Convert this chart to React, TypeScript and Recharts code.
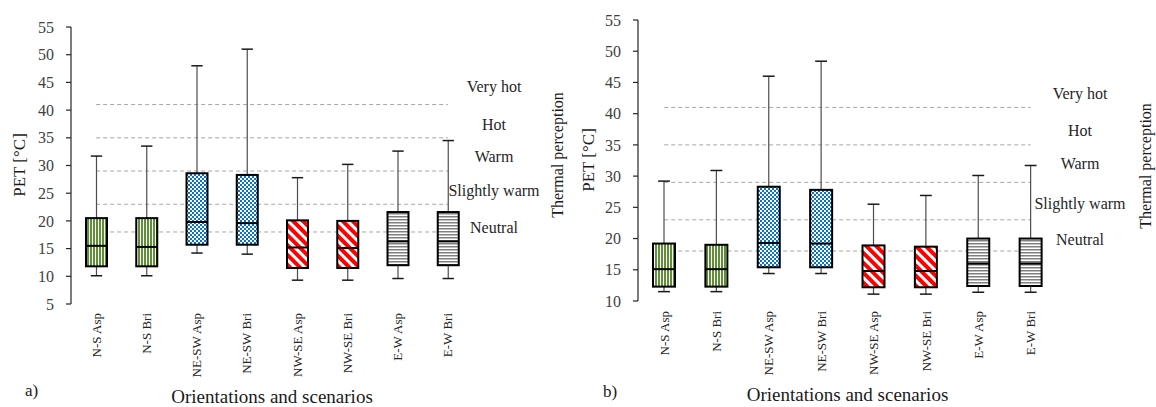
import React from 'react';
import { ComposedChart, Bar, Area, XAxis, YAxis, Label } from 'recharts';

const FONT = '"Liberation Serif", "Times New Roman", serif';

const categories = ['N-S Asp', 'N-S Bri', 'NE-SW Asp', 'NE-SW Bri', 'NW-SE Asp', 'NW-SE Bri', 'E-W Asp', 'E-W Bri'];
const thresholds = [18, 23, 29, 35, 41];
const perceptionLabels = ['Neutral', 'Slightly warm', 'Warm', 'Hot', 'Very hot'];

// a) values
const aMin = [10.1, 10.1, 14.2, 14.0, 9.3, 9.3, 9.6, 9.6];
const aQ1 = [11.8, 11.8, 15.7, 15.7, 11.5, 11.5, 12.0, 12.0];
const aMed = [15.5, 15.3, 19.8, 19.6, 15.2, 15.1, 16.3, 16.3];
const aQ3 = [20.5, 20.5, 28.6, 28.3, 20.1, 20.0, 21.6, 21.6];
const aMax = [31.7, 33.5, 48.0, 51.0, 27.8, 30.2, 32.6, 34.5];
const aLabelPos = [18.8, 25.5, 31.6, 37.4, 44.2];
const aTicks = [5, 10, 15, 20, 25, 30, 35, 40, 45, 50, 55];

// b) values
const bMin = [11.5, 11.5, 14.4, 14.4, 11.1, 11.1, 11.4, 11.4];
const bQ1 = [12.3, 12.3, 15.4, 15.4, 12.2, 12.2, 12.4, 12.4];
const bMed = [15.1, 15.1, 19.3, 19.2, 14.8, 14.8, 16.0, 16.0];
const bQ3 = [19.2, 19.0, 28.3, 27.8, 18.9, 18.7, 20.0, 20.0];
const bMax = [29.2, 30.9, 46.0, 48.4, 25.5, 26.9, 30.1, 31.7];
const bLabelPos = [19.8, 25.7, 32.1, 37.4, 43.3];
const bTicks = [10, 15, 20, 25, 30, 35, 40, 45, 50, 55];

const orientationOf = (cat: string) => cat.split(' ')[0];

function Patterns({ prefix }: { prefix: string }) {
  return (
    <defs>
      <pattern id={`${prefix}-N-S`} width={3} height={4} patternUnits="userSpaceOnUse">
        <rect width={3} height={4} fill="#ffffff" />
        <rect width={2} height={4} fill="#5f8f36" />
      </pattern>
      <pattern id={`${prefix}-NE-SW`} width={4} height={4} patternUnits="userSpaceOnUse">
        <rect width={4} height={4} fill="#ffffff" />
        <rect x={0} y={0} width={2} height={2} fill="#0a74c4" />
        <rect x={2} y={2} width={2} height={2} fill="#0a74c4" />
      </pattern>
      <pattern id={`${prefix}-NW-SE`} width={7} height={7} patternUnits="userSpaceOnUse" patternTransform="rotate(-45)">
        <rect width={7} height={7} fill="#ffffff" />
        <rect width={4} height={7} fill="#ff0000" />
      </pattern>
      <pattern id={`${prefix}-E-W`} width={4} height={3} patternUnits="userSpaceOnUse">
        <rect width={4} height={3} fill="#ffffff" />
        <rect width={4} height={1.5} fill="#7f7f7f" />
      </pattern>
    </defs>
  );
}

function BoxShape(props: any) {
  const { x, y, width, height, payload, prefix } = props;
  if (x == null || y == null || !payload) return <g />;
  const top = Math.min(y, y + height);
  const bot = Math.max(y, y + height);
  const { min, q1, med, q3, max, cat } = payload;
  const py = (v: number) => top + ((bot - top) * (max - v)) / (max - min);
  const cx = x + width / 2;
  const cap = width * 0.27;
  const fill = `url(#${prefix}-${orientationOf(cat)})`;
  return (
    <g>
      <line x1={cx} x2={cx} y1={py(max)} y2={py(q3)} stroke="#4d4d4d" strokeWidth={1.2} />
      <line x1={cx} x2={cx} y1={py(q1)} y2={py(min)} stroke="#4d4d4d" strokeWidth={1.2} />
      <line x1={cx - cap} x2={cx + cap} y1={py(max)} y2={py(max)} stroke="#1a1a1a" strokeWidth={1.5} />
      <line x1={cx - cap} x2={cx + cap} y1={py(min)} y2={py(min)} stroke="#1a1a1a" strokeWidth={1.5} />
      <rect x={x} y={py(q3)} width={width} height={py(q1) - py(q3)} fill={fill} stroke="#000000" strokeWidth={2} />
      <line x1={x} x2={x + width} y1={py(med)} y2={py(med)} stroke="#000000" strokeWidth={2} />
    </g>
  );
}

type ChartProps = {
  prefix: string;
  mins: number[]; q1s: number[]; meds: number[]; q3s: number[]; maxs: number[];
  labelPos: number[];
  yDomain: [number, number];
  yTicks: number[];
  width: number; height: number; top: number;
  xAxisHeight: number; yAxisWidth: number; labAxisWidth: number;
  barSize: number; labelDx: number; thermalDx: number; thermalCy: number;
  petCx: number; petCy: number; titleBaseline: number; catGap: number; tickFont: number;
};

function BoxChart(p: ChartProps) {
  const data = categories.map((cat, i) => {
    const row: any = {
      cat, min: p.mins[i], q1: p.q1s[i], med: p.meds[i], q3: p.q3s[i], max: p.maxs[i],
      range: [p.mins[i], p.maxs[i]],
    };
    thresholds.forEach((t, j) => { row['th' + j] = t; });
    return row;
  });
  const edgeTicks = categories.map((_, i) => i).concat([categories.length]);
  const plotRight = p.width - p.labAxisWidth;
  const plotCenter = (p.yAxisWidth + plotRight) / 2;

  const catTick = (t: any) => {
    const yy = t.y + p.catGap;
    return (
      <text x={t.x} y={yy} transform={`rotate(-90, ${t.x}, ${yy})`} textAnchor="end" dy="0.35em"
        fontSize={13} fill="#262626" fontFamily={FONT}>{t.payload.value}</text>
    );
  };
  const percTick = (t: any) => {
    const idx = p.labelPos.indexOf(t.payload.value);
    return (
      <text x={plotRight + p.labelDx} y={t.y} textAnchor="middle" dy="0.35em" fontSize={16}
        fill="#262626" fontFamily={FONT}>{perceptionLabels[idx]}</text>
    );
  };

  return (
    <ComposedChart width={p.width} height={p.height} data={data}
      margin={{ top: p.top, right: 0, bottom: 0, left: 0 }}>
      <Patterns prefix={p.prefix} />
      <XAxis xAxisId="edge" type="number" domain={[0, categories.length]} ticks={edgeTicks}
        height={0} tickSize={5} tick={() => <g />} allowDataOverflow
        axisLine={{ stroke: '#262626', strokeWidth: 1.2 }} tickLine={{ stroke: '#262626', strokeWidth: 1.2 }} />
      <XAxis dataKey="cat" type="category" height={p.xAxisHeight} axisLine={false} tickLine={false}
        tickSize={0} tickMargin={0} interval={0} tick={catTick}
        label={<Label content={() => (
          <text x={plotCenter} y={p.titleBaseline} textAnchor="middle" fontSize={19} fill="#1a1a1a"
            fontFamily={FONT}>Orientations and scenarios</text>
        )} />} />
      <YAxis type="number" domain={p.yDomain} ticks={p.yTicks} width={p.yAxisWidth} tickSize={5}
        tickMargin={12} interval={0} allowDataOverflow
        axisLine={{ stroke: '#262626', strokeWidth: 1.2 }} tickLine={{ stroke: '#262626', strokeWidth: 1.2 }}
        tick={{ fontSize: p.tickFont, fill: '#404040', fontFamily: FONT }}
        label={<Label content={() => (
          <text x={p.petCx} y={p.petCy} transform={`rotate(-90, ${p.petCx}, ${p.petCy})`} textAnchor="middle"
            dy="0.35em" fontSize={17} fill="#1a1a1a" fontFamily={FONT}>PET [°C]</text>
        )} />} />
      <YAxis yAxisId="lab" orientation="right" type="number" domain={p.yDomain} ticks={p.labelPos}
        width={p.labAxisWidth} tickSize={0} tickMargin={0} interval={0} allowDataOverflow
        axisLine={false} tickLine={false} tick={percTick}
        label={<Label content={() => {
          const tx = plotRight + p.thermalDx;
          return (
            <text x={tx} y={p.thermalCy} transform={`rotate(-90, ${tx}, ${p.thermalCy})`} textAnchor="middle"
              dy="0.35em" fontSize={16} fill="#1a1a1a" fontFamily={FONT}>Thermal perception</text>
          );
        }} />} />
      {thresholds.map((t, j) => (
        <Area key={t} type="linear" dataKey={'th' + j} stroke="#a6a6a6" strokeWidth={1} strokeDasharray="4 3"
          fill="none" fillOpacity={0} dot={false} activeDot={false} isAnimationActive={false} />
      ))}
      <Bar dataKey="range" barSize={p.barSize} isAnimationActive={false}
        shape={(s: any) => <BoxShape {...s} prefix={p.prefix} />} />
    </ComposedChart>
  );
}

export default function App() {
  return (
    <div style={{ position: 'absolute', left: 0, top: 0, width: 1156, height: 407, background: '#ffffff', overflow: 'hidden' }}>
      <div style={{ position: 'absolute', left: 0, top: 0 }}>
        <BoxChart prefix="pa" mins={aMin} q1s={aQ1} meds={aMed} q3s={aQ3} maxs={aMax} labelPos={aLabelPos}
          yDomain={[5, 55]} yTicks={aTicks} width={568} height={407} top={27} xAxisHeight={103}
          yAxisWidth={71} labAxisWidth={95} barSize={21} labelDx={21} thermalDx={84} thermalCy={155}
          petCx={19} petCy={165} titleBaseline={403} catGap={9} tickFont={16} />
      </div>
      <div style={{ position: 'absolute', left: 568, top: 0 }}>
        <BoxChart prefix="pb" mins={bMin} q1s={bQ1} meds={bMed} q3s={bQ3} maxs={bMax} labelPos={bLabelPos}
          yDomain={[10, 55]} yTicks={bTicks} width={588} height={407} top={20} xAxisHeight={106}
          yAxisWidth={70} labAxisWidth={99} barSize={22} labelDx={23} thermalDx={88} thermalCy={166}
          petCx={20} petCy={160} titleBaseline={401} catGap={10} tickFont={16} />
      </div>
      <svg width={1156} height={407} style={{ position: 'absolute', left: 0, top: 0, pointerEvents: 'none' }}>
        <text x={25} y={396} fontSize={17} fill="#1a1a1a" fontFamily={FONT}>a)</text>
        <text x={603} y={397} fontSize={17} fill="#1a1a1a" fontFamily={FONT}>b)</text>
      </svg>
    </div>
  );
}
